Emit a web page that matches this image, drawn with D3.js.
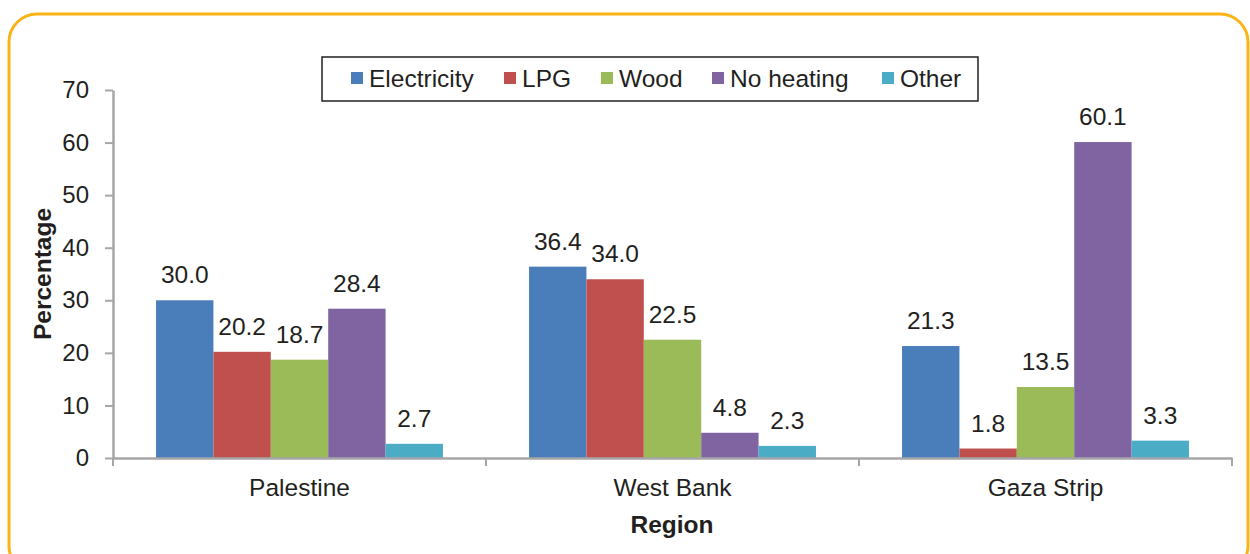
<!DOCTYPE html>
<html><head><meta charset="utf-8">
<script src="https://cdn.jsdelivr.net/npm/d3@7"></script>
<style>body{margin:0;background:#fff}svg{display:block;font-family:"Liberation Sans",Arial,sans-serif}</style>
</head><body><svg id="c" width="1250" height="554"></svg>
<script>
const categories = ["Palestine", "West Bank", "Gaza Strip"];
const seriesNames = ["Electricity", "LPG", "Wood", "No heating", "Other"];
const electricity = [30.0, 36.4, 21.3];
const lpg = [20.2, 34.0, 1.8];
const wood = [18.7, 22.5, 13.5];
const noHeating = [28.4, 4.8, 60.1];
const other = [2.7, 2.3, 3.3];
const yTicks = [0, 10, 20, 30, 40, 50, 60, 70];
const colors = ["#4A7EBB", "#C0504D", "#9BBB59", "#8064A2", "#4BACC6"];
const seriesValues = [electricity, lpg, wood, noHeating, other];

(function () {
const svg = d3.select("#c");
const textColor = "#231f20";
const axisColor = "#a6a6a8";
const fs = 24.5;

svg.append("rect").attr("x", 9).attr("y", 14).attr("width", 1239).attr("height", 560)
  .attr("rx", 28).attr("fill", "none").attr("stroke", "#FBB416").attr("stroke-width", 3);

const pLeft = 113, pRight = 1232, pTop = 90, pBottom = 458;
const x = d3.scaleBand().domain(categories).range([pLeft, pRight]);
const inner = d3.scaleBand().domain(seriesNames).range([0, x.bandwidth()]).paddingOuter(0.75).paddingInner(0);
const y = d3.scaleLinear().domain([0, 70]).range([pBottom, pTop]);

seriesNames.forEach((s, si) => {
  const g = svg.append("g");
  g.selectAll("rect").data(categories).join("rect")
    .attr("x", c => x(c) + inner(s))
    .attr("width", inner.bandwidth())
    .attr("y", (c, i) => y(seriesValues[si][i]))
    .attr("height", (c, i) => pBottom - y(seriesValues[si][i]))
    .attr("fill", colors[si]);
  g.selectAll("text").data(categories).join("text")
    .attr("x", c => x(c) + inner(s) + inner.bandwidth() / 2)
    .attr("y", (c, i) => y(seriesValues[si][i]) - 17)
    .attr("text-anchor", "middle").attr("font-size", fs).attr("fill", textColor)
    .text((c, i) => seriesValues[si][i].toFixed(1));
});

const yAxis = svg.append("g").attr("transform", `translate(${pLeft},0)`)
  .call(d3.axisLeft(y).tickValues(yTicks).tickSize(8).tickPadding(16).tickSizeOuter(0));
yAxis.select(".domain").attr("stroke", axisColor).attr("stroke-width", 2.5);
yAxis.selectAll(".tick line").attr("stroke", axisColor).attr("stroke-width", 2);
yAxis.selectAll(".tick text").attr("font-size", 24).attr("fill", textColor)
  .attr("font-family", "Liberation Sans, Arial, sans-serif");

const xAxis = svg.append("g").attr("transform", `translate(0,${pBottom})`)
  .call(d3.axisBottom(x).tickSize(0).tickPadding(21));
xAxis.select(".domain").attr("stroke", axisColor).attr("stroke-width", 2.5);
xAxis.selectAll(".tick text").attr("font-size", fs).attr("fill", textColor)
  .attr("font-family", "Liberation Sans, Arial, sans-serif");
const boundaries = [pLeft, ...categories.slice(1).map(c => x(c)), pRight];
svg.append("g").selectAll("line").data(boundaries).join("line")
  .attr("x1", d => d).attr("x2", d => d).attr("y1", pBottom).attr("y2", pBottom + 8)
  .attr("stroke", axisColor).attr("stroke-width", 2);

svg.append("text").attr("x", 672).attr("y", 533).attr("text-anchor", "middle")
  .attr("font-size", fs).attr("font-weight", "bold").attr("fill", textColor).text("Region");
svg.append("text").attr("transform", "translate(51,274) rotate(-90)").attr("text-anchor", "middle")
  .attr("font-size", fs).attr("font-weight", "bold").attr("fill", textColor).text("Percentage");

const leg = svg.append("g");
leg.append("rect").attr("x", 322).attr("y", 57).attr("width", 656).attr("height", 44)
  .attr("fill", "#fff").attr("stroke", "#231f20").attr("stroke-width", 1.5);
const legX = [351, 504, 601, 712, 882];
seriesNames.forEach((s, i) => {
  leg.append("rect").attr("x", legX[i]).attr("y", 72).attr("width", 12).attr("height", 12).attr("fill", colors[i]);
  leg.append("text").attr("x", legX[i] + 18).attr("y", 87).attr("font-size", fs).attr("fill", textColor).text(s);
});
})();
</script></body></html>
